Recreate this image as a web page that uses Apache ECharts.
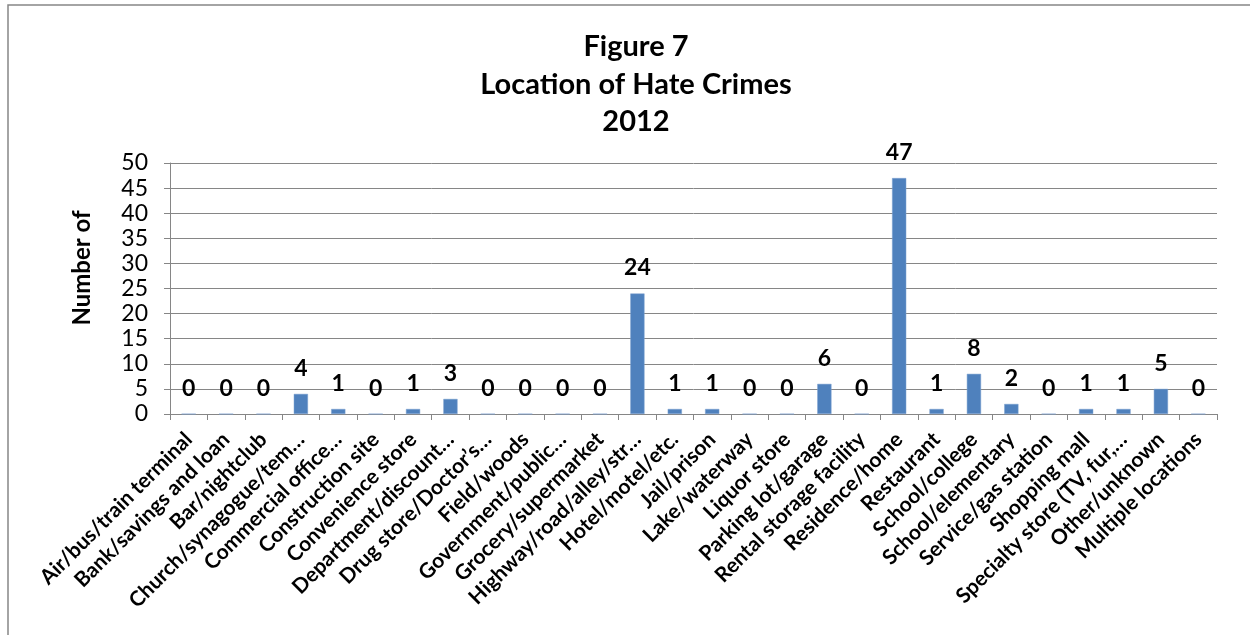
<!DOCTYPE html>
<html>
<head>
<meta charset="utf-8">
<script src="https://cdn.jsdelivr.net/npm/echarts@6/dist/echarts.min.js"></script>
<style>
html,body{margin:0;padding:0;background:#fff;}
#chart{width:1250px;height:635px;}
</style>
</head>
<body>
<div id="chart"></div>
<script>
const categories = [
  "Air/bus/train terminal",
  "Bank/savings and loan",
  "Bar/nightclub",
  "Church/synagogue/tem…",
  "Commercial office…",
  "Construction site",
  "Convenience store",
  "Department/discount…",
  "Drug store/Doctor’s…",
  "Field/woods",
  "Government/public…",
  "Grocery/supermarket",
  "Highway/road/alley/str…",
  "Hotel/motel/etc.",
  "Jail/prison",
  "Lake/waterway",
  "Liquor store",
  "Parking lot/garage",
  "Rental storage facility",
  "Residence/home",
  "Restaurant",
  "School/college",
  "School/elementary",
  "Service/gas station",
  "Shopping mall",
  "Specialty store (TV, fur,…",
  "Other/unknown",
  "Multiple locations"
];
const values = [0,0,0,4,1,0,1,3,0,0,0,0,24,1,1,0,0,6,0,47,1,8,2,0,1,1,5,0];
const titleLines = ["Figure 7", "Location of Hate Crimes", "2012"];
const yAxisTitle = "Number of";
const yMin = 0, yMax = 50, yStep = 5;

const FONT = "Lato, 'Open Sans', sans-serif";
const GRAY = "#868686";

const chart = echarts.init(document.getElementById('chart'), null, {renderer: 'canvas'});
chart.setOption({
  animation: false,
  backgroundColor: '#fff',
  title: {
    text: titleLines.join('\n'),
    left: 631,
    textAlign: 'center',
    top: 23,
    textStyle: {fontFamily: FONT, fontWeight: 'bold', fontSize: 29, lineHeight: 37.5, color: '#000'}
  },
  graphic: [
    {type: 'rect', shape: {x: 8, y: 5, width: 1400, height: 800}, style: {fill: 'none', stroke: GRAY, lineWidth: 1.5}, z: -1},
    {type: 'text', x: 82, y: 268, rotation: Math.PI / 2,
     style: {text: yAxisTitle, fontFamily: FONT, fontWeight: 'bold', fontSize: 24, fill: '#000', align: 'center', verticalAlign: 'middle'}}
  ],
  grid: {left: 170, right: 33, top: 163, bottom: 221, containLabel: false},
  xAxis: {
    type: 'category',
    data: categories,
    axisLine: {lineStyle: {color: GRAY, width: 1}},
    axisTick: {show: true, alignWithLabel: false, length: 6, lineStyle: {color: GRAY}},
    axisLabel: {interval: 0, rotate: 45, margin: 22, fontFamily: FONT, fontWeight: 'bold', fontSize: 21, color: '#000'},
    splitLine: {show: false}
  },
  yAxis: {
    type: 'value',
    min: yMin, max: yMax, interval: yStep,
    axisLine: {show: true, lineStyle: {color: GRAY, width: 1}},
    axisTick: {show: true, length: 6, lineStyle: {color: GRAY}},
    axisLabel: {margin: 22, fontFamily: FONT, fontSize: 23, color: '#000'},
    splitLine: {show: true, lineStyle: {color: GRAY, width: 1}}
  },
  series: [{
    type: 'bar',
    data: values,
    barWidth: '38%',
    itemStyle: {color: '#4F81BD', borderColor: '#7FA3D1', borderWidth: 0.5},
    label: {show: true, position: 'top', distance: 14, fontFamily: FONT, fontWeight: 'bold', fontSize: 23, color: '#000'}
  }]
});
</script>
</body>
</html>
